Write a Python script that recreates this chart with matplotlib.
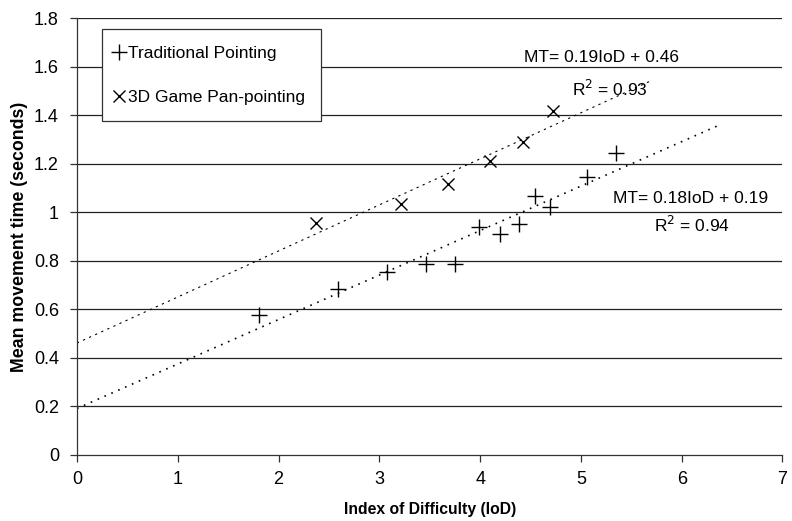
import matplotlib
matplotlib.use("Agg")
import matplotlib.pyplot as plt
import numpy as np

plt.rcParams['font.family'] = ['Liberation Sans', 'DejaVu Sans']

# Data
trad_x = [1.81, 2.59, 3.08, 3.46, 3.75, 3.99, 4.20, 4.39, 4.54, 4.69, 5.06, 5.35]
trad_y = [0.577, 0.683, 0.752, 0.788, 0.788, 0.937, 0.909, 0.950, 1.067, 1.022, 1.144, 1.244]
pan_x = [2.37, 3.21, 3.68, 4.10, 4.43, 4.72]
pan_y = [0.954, 1.033, 1.115, 1.213, 1.290, 1.418]

# Trendline coefficients (slope, intercept) and x-extent
trad_fit = (0.1835, 0.19)
trad_range = (0.0, 6.35)
pan_fit = (0.19, 0.46)
pan_range = (0.0, 5.71)

xticks = [0, 1, 2, 3, 4, 5, 6, 7]
yticks = [0, 0.2, 0.4, 0.6, 0.8, 1.0, 1.2, 1.4, 1.6, 1.8]
ytick_labels = ['0', '0.2', '0.4', '0.6', '0.8', '1', '1.2', '1.4', '1.6', '1.8']

fig = plt.figure(figsize=(7.92, 5.21), dpi=100)
ax = fig.add_axes([0.0972, 0.1276, 0.8908, 0.8373])

for yv in yticks[1:]:
    ax.axhline(yv, color='#222222', lw=0.9, zorder=0)

tx = np.array(trad_range)
ax.plot(tx, trad_fit[0] * tx + trad_fit[1], color='black', lw=1.2,
        linestyle=(0, (1, 3.5)), zorder=2)
px = np.array(pan_range)
ax.plot(px, pan_fit[0] * px + pan_fit[1], color='black', lw=0.8,
        linestyle=(0, (2, 4)), zorder=2)

h1, = ax.plot(trad_x, trad_y, linestyle='none', marker='+', markersize=11,
              markeredgewidth=1.0, color='black', zorder=3, label='Traditional Pointing')
h2, = ax.plot(pan_x, pan_y, linestyle='none', marker='x', markersize=9,
              markeredgewidth=1.0, color='black', zorder=3, label='3D Game Pan-pointing')

ax.set_xlim(0, 7)
ax.set_ylim(0, 1.8)
ax.set_xticks(xticks)
ax.set_yticks(yticks)
ax.set_yticklabels(ytick_labels)
ax.tick_params(axis='both', labelsize=13, direction='out', length=5, width=0.9,
               color='#333333')
ax.tick_params(axis='x', pad=7)
ax.tick_params(axis='y', pad=8)
for s in ['top', 'right']:
    ax.spines[s].set_visible(False)
for s in ['left', 'bottom']:
    ax.spines[s].set_color('#333333')
    ax.spines[s].set_linewidth(0.9)

ax.set_xlabel('Index of Difficulty (IoD)', fontsize=11.3, fontweight='bold', labelpad=10)
ax.set_ylabel('Mean movement time (seconds)', fontsize=12.8, fontweight='bold', labelpad=4)

ax.text(5.20, 1.64, 'MT= 0.19IoD + 0.46', fontsize=12.5, ha='center', va='center')
ax.text(5.29, 1.51, 'R$^2$ = 0.93', fontsize=12.5, ha='center', va='center')
ax.text(6.09, 1.058, 'MT= 0.18IoD + 0.19', fontsize=12.5, ha='center', va='center')
ax.text(6.10, 0.947, 'R$^2$ = 0.94', fontsize=12.5, ha='center', va='center')

leg = ax.legend(handles=[h1, h2], loc='upper left', bbox_to_anchor=(0.035, 0.975),
                fontsize=12.5, frameon=True, fancybox=False, edgecolor='#333333',
                handlelength=0.05, handletextpad=0.5, labelspacing=1.65,
                borderpad=0.95, borderaxespad=0)
leg.get_frame().set_linewidth(0.9)
leg.get_frame().set_facecolor('white')
leg.get_frame().set_alpha(1)

fig.savefig('out.png', dpi=100)
